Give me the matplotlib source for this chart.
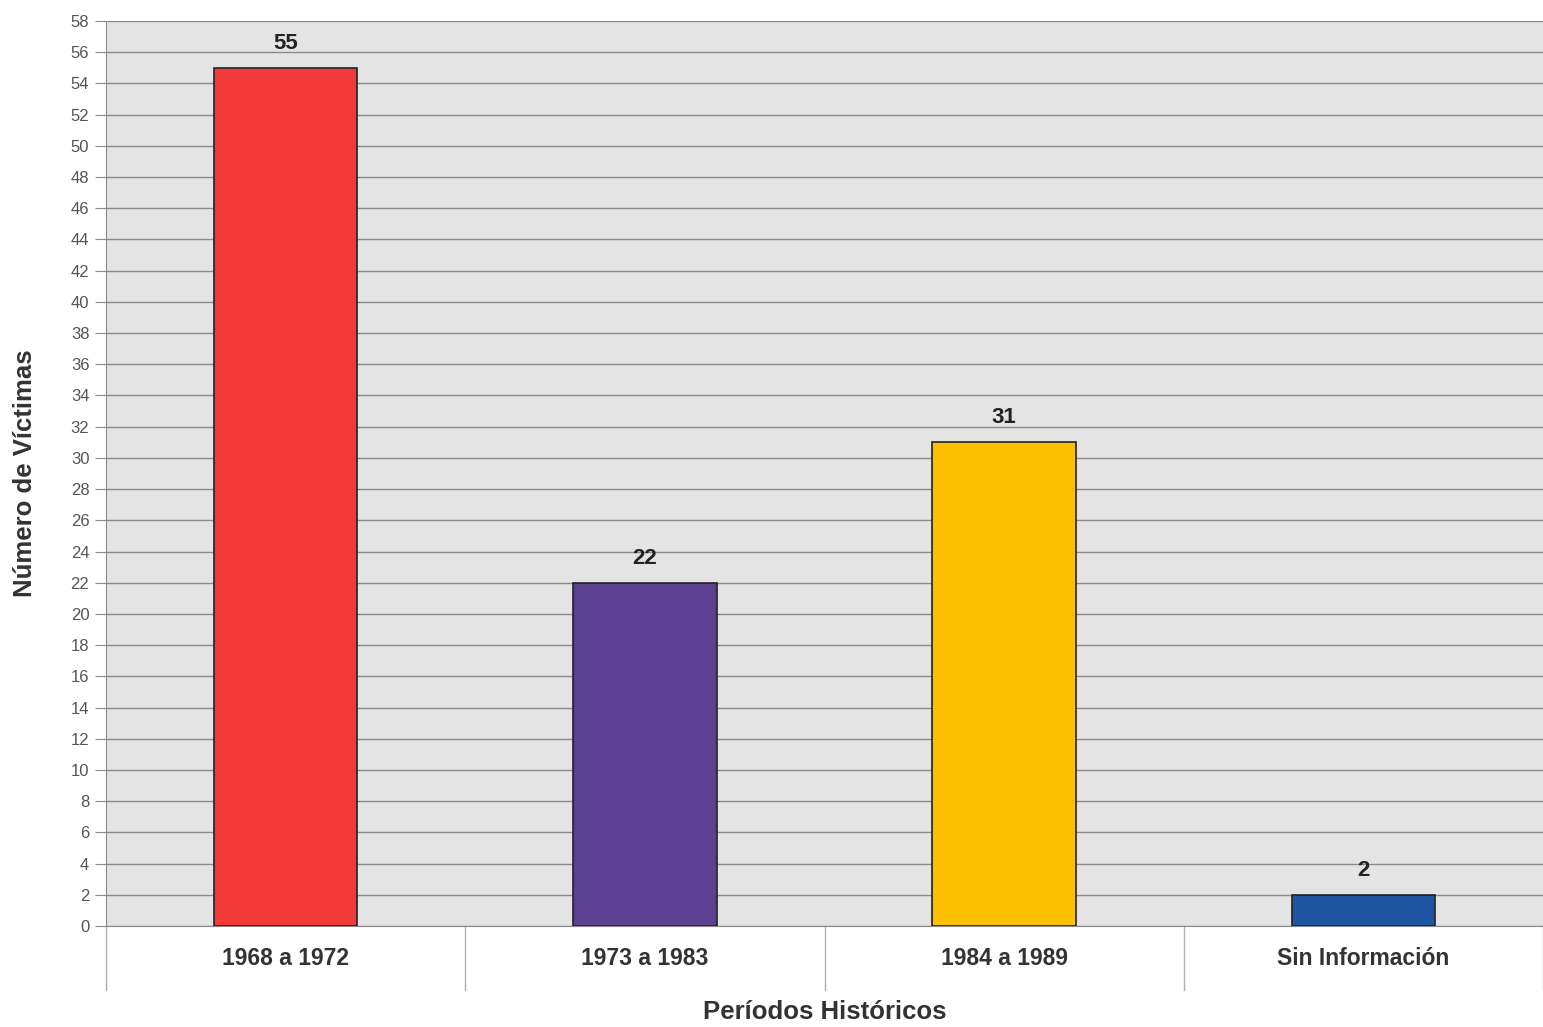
import matplotlib
matplotlib.use("Agg")
import matplotlib.pyplot as plt
import matplotlib.transforms as mtransforms

categories = ["1968 a 1972", "1973 a 1983", "1984 a 1989", "Sin Información"]
values = [55, 22, 31, 2]
colors = ["#f23a3a", "#5c4192", "#fdc000", "#1f56a3"]
yticks = list(range(0, 59, 2))

plt.rcParams['font.family'] = ['Liberation Sans', 'DejaVu Sans']

fig = plt.figure(figsize=(15.43, 10.27), dpi=100)
ax = fig.add_axes([0.0687, 0.0983, 0.9313, 0.8813])
ax.set_facecolor("#e4e4e4")

x = list(range(len(categories)))
bars = ax.bar(x, values, width=0.4, color=colors, edgecolor="#222222", linewidth=1.2, zorder=3)
for xi, v in zip(x, values):
    ax.text(xi, v + 0.9, str(v), ha="center", va="bottom", fontsize=16, fontweight="bold", color="#222222")

ax.set_xlim(-0.5, len(categories) - 0.5)
ax.set_ylim(0, 58)
ax.set_yticks(yticks)
ax.set_yticklabels([str(t) for t in yticks], fontsize=12, color="#555555")
ax.yaxis.grid(True, color="#8a8a8a", linewidth=1.0, zorder=0)
ax.set_axisbelow(True)
ax.tick_params(axis="y", length=8, color="#8a8a8a", pad=4)
ax.set_xticks(x)
ax.set_xticklabels(categories, fontsize=16.5, fontweight="bold", color="#333333")
ax.tick_params(axis="x", length=0, pad=15)

for s in ["top", "right"]:
    ax.spines[s].set_visible(False)
ax.spines["left"].set_color("#8a8a8a")
ax.spines["bottom"].set_color("#8a8a8a")

trans = mtransforms.blended_transform_factory(ax.transData, ax.transAxes)
for sep in [-0.5, 0.5, 1.5, 2.5, 3.5]:
    ax.plot([sep, sep], [0, -0.0707], transform=trans, color="#b0b0b0", linewidth=1.0, clip_on=False)

ax.set_xlabel("Períodos Históricos", fontsize=18.5, fontweight="bold", color="#333333", labelpad=22)
ax.set_ylabel("Número de Víctimas", fontsize=18.5, fontweight="bold", color="#333333", labelpad=24)

fig.savefig("out.png", dpi=100, facecolor="white")
